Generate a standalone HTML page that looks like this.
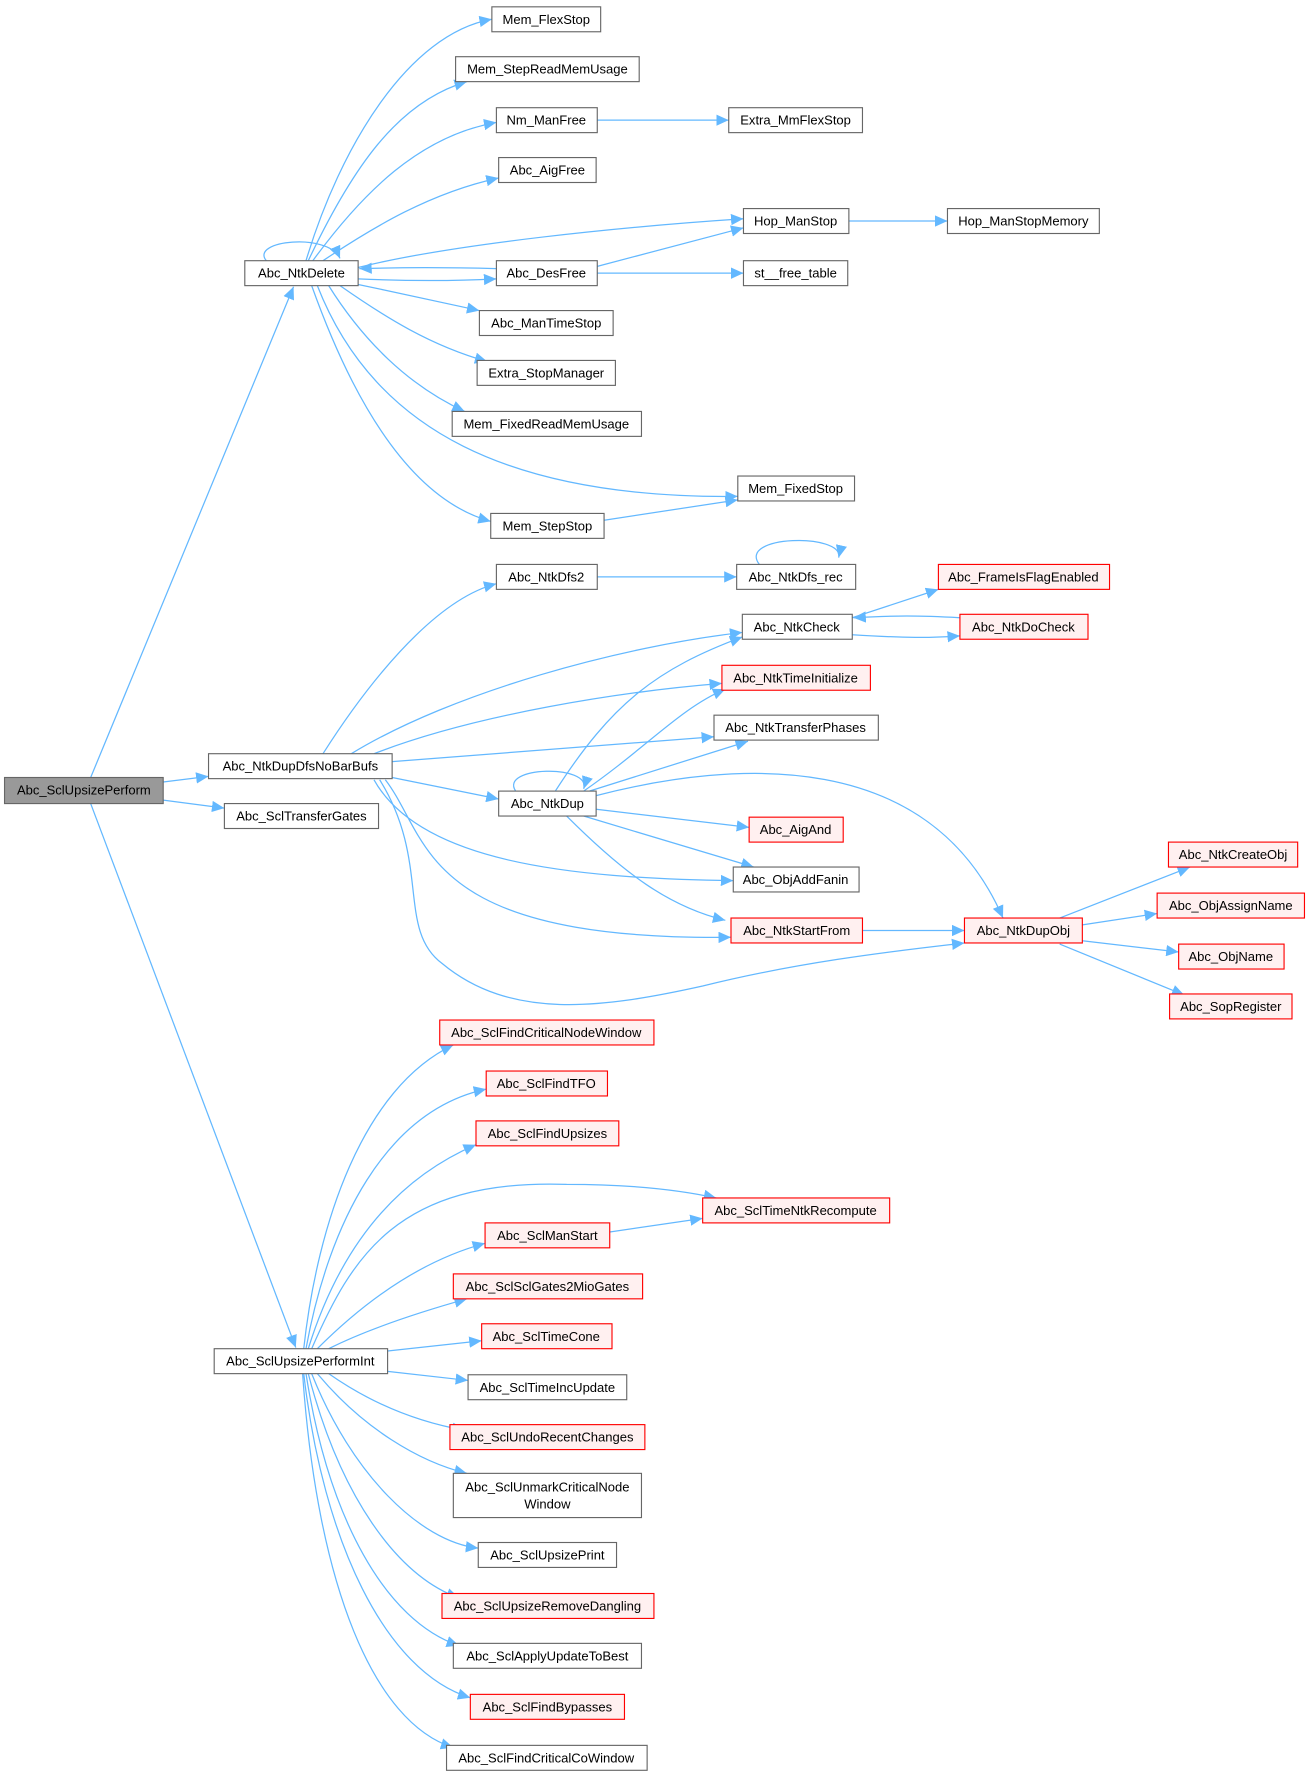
<!DOCTYPE html>
<html><head><meta charset="utf-8"><style>html,body{margin:0;padding:0;background:#fff}svg{display:block}</style></head>
<body>
<svg width="1309" height="1776" viewBox="0 0 1155 1567" xmlns="http://www.w3.org/2000/svg" font-family="Liberation Sans, Arial, sans-serif" font-size="11.5">
<defs>
<marker id="a" markerUnits="userSpaceOnUse" markerWidth="12" markerHeight="10" refX="11" refY="5" orient="auto"><path d="M0,0 L11,5 L0,10 z" fill="#63b8ff"/></marker>
</defs>
<g fill="none" stroke="#63b8ff" stroke-width="1.1" marker-end="url(#a)">
<path d="M80,686 L259,253"/>
<path d="M144,690 L184,685"/>
<path d="M144,706 L198,713"/>
<path d="M80,709 L261,1189"/>
<path d="M270,230 C300,130 360,30 434,17"/>
<path d="M272,230 C310,150 350,90 412,72"/>
<path d="M276,230 C320,170 370,120 438,108"/>
<path d="M285,230 C330,200 380,170 440,157"/>
<path d="M316,236 C400,215 550,200 656,193"/>
<path d="M438,237 C400,236 350,236 317,237"/>
<path d="M316,246 C360,248 400,248 438,246"/>
<path d="M316,251 C350,258 380,265 423,274"/>
<path d="M300,252 C340,280 380,305 430,319"/>
<path d="M290,252 C320,300 360,340 410,363"/>
<path d="M280,252 C330,380 450,440 651,438"/>
<path d="M275,252 C310,350 360,440 433,460"/>
<path d="M235,230 C220,212 290,205 300,228"/>
<path d="M527,106 L643,106"/>
<path d="M527,235 L656,201"/>
<path d="M527,241 L656,241"/>
<path d="M749,195 L836,195"/>
<path d="M533,459 L651,441"/>
<path d="M285,665 C320,610 380,530 438,515"/>
<path d="M310,665 C400,610 550,570 655,558"/>
<path d="M330,665 C420,630 550,610 637,603"/>
<path d="M346,672 L630,650"/>
<path d="M346,686 L440,705"/>
<path d="M330,688 C370,760 500,775 647,777"/>
<path d="M340,688 C380,740 370,830 645,827"/>
<path d="M335,688 C380,760 350,820 390,850 C450,900 530,890 620,870 C700,850 780,840 851,832"/>
<path d="M527,509 L650,509"/>
<path d="M670,498 C650,472 745,470 740,492"/>
<path d="M752,545 L828,520"/>
<path d="M847,545 C810,543 790,543 753,545"/>
<path d="M752,560 C800,563 820,563 847,561"/>
<path d="M490,698 C540,620 580,590 655,562"/>
<path d="M515,698 C570,660 600,625 640,608"/>
<path d="M520,698 L660,654"/>
<path d="M526,702 C650,670 820,660 885,810"/>
<path d="M526,714 L661,730"/>
<path d="M515,720 L665,765"/>
<path d="M500,720 C550,770 590,800 640,812"/>
<path d="M455,698 C440,676 522,674 515,696"/>
<path d="M761,821 L851,821"/>
<path d="M935,810 L1050,765"/>
<path d="M955,816 L1021,806"/>
<path d="M955,830 L1040,840"/>
<path d="M935,833 L1045,878"/>
<path d="M268,1190 C280,1080 320,960 400,922"/>
<path d="M270,1190 C290,1080 340,980 429,961"/>
<path d="M272,1190 C300,1100 350,1040 420,1010"/>
<path d="M275,1190 C310,1110 350,1040 500,1045 C560,1045 600,1050 632,1057"/>
<path d="M280,1190 C330,1140 380,1110 428,1097"/>
<path d="M290,1190 C330,1170 380,1155 412,1146"/>
<path d="M342,1192 L425,1183"/>
<path d="M342,1210 L413,1218"/>
<path d="M290,1212 C330,1240 370,1255 410,1262"/>
<path d="M280,1212 C320,1260 370,1290 412,1300"/>
<path d="M275,1212 C310,1300 370,1360 422,1366"/>
<path d="M272,1212 C300,1320 350,1390 405,1410"/>
<path d="M270,1212 C290,1340 340,1430 405,1452"/>
<path d="M268,1212 C285,1360 340,1475 415,1498"/>
<path d="M267,1212 C280,1400 330,1520 400,1542"/>
<path d="M538,1087 L620,1075"/>
</g>
<g stroke-width="1" text-anchor="middle">
<g fill="#fff" stroke="#666">
<rect x="4" y="686" width="140" height="23" fill="#999"/>
<rect x="216" y="230" width="100" height="22"/>
<rect x="184" y="665" width="162" height="22"/>
<rect x="198" y="709" width="136" height="22"/>
<rect x="189" y="1190" width="153" height="22"/>
<rect x="434" y="6" width="96" height="22"/>
<rect x="402" y="50" width="162" height="22"/>
<rect x="438" y="95" width="89" height="22"/>
<rect x="440" y="139" width="86" height="22"/>
<rect x="438" y="230" width="89" height="22"/>
<rect x="423" y="274" width="118" height="22"/>
<rect x="421" y="318" width="122" height="22"/>
<rect x="399" y="363" width="167" height="22"/>
<rect x="433" y="453" width="100" height="22"/>
<rect x="643" y="95" width="118" height="22"/>
<rect x="656" y="184" width="93" height="22"/>
<rect x="836" y="184" width="134" height="22"/>
<rect x="656" y="230" width="92" height="22"/>
<rect x="651" y="420" width="103" height="22"/>
<rect x="438" y="498" width="89" height="22"/>
<rect x="650" y="498" width="105" height="22"/>
<rect x="655" y="542" width="97" height="22"/>
<rect x="630" y="631" width="145" height="22"/>
<rect x="440" y="698" width="86" height="22"/>
<rect x="647" y="765" width="111" height="22"/>
<rect x="413" y="1213" width="140" height="22"/>
<rect x="400" y="1300" width="166" height="39"/>
<rect x="422" y="1361" width="122" height="22"/>
<rect x="400" y="1450" width="166" height="22"/>
<rect x="394" y="1540" width="177" height="22"/>
</g>
<g fill="#fff0f0" stroke="#ff0000">
<rect x="828" y="498" width="151" height="22"/>
<rect x="847" y="542" width="113" height="22"/>
<rect x="637" y="587" width="131" height="22"/>
<rect x="661" y="721" width="83" height="22"/>
<rect x="645" y="810" width="116" height="22"/>
<rect x="851" y="810" width="104" height="22"/>
<rect x="1031" y="743" width="114" height="22"/>
<rect x="1021" y="788" width="130" height="22"/>
<rect x="1040" y="833" width="93" height="22"/>
<rect x="1032" y="877" width="108" height="22"/>
<rect x="388" y="900" width="189" height="22"/>
<rect x="429" y="945" width="107" height="22"/>
<rect x="420" y="989" width="126" height="22"/>
<rect x="620" y="1057" width="165" height="22"/>
<rect x="428" y="1079" width="110" height="22"/>
<rect x="400" y="1124" width="167" height="22"/>
<rect x="425" y="1168" width="115" height="22"/>
<rect x="397" y="1257" width="172" height="22"/>
<rect x="390" y="1406" width="187" height="22"/>
<rect x="415" y="1495" width="136" height="22"/>
</g>
<g fill="#000" stroke="none">
<text x="74" y="701">Abc_SclUpsizePerform</text>
<text x="266" y="245">Abc_NtkDelete</text>
<text x="265" y="680">Abc_NtkDupDfsNoBarBufs</text>
<text x="266" y="724">Abc_SclTransferGates</text>
<text x="265" y="1205">Abc_SclUpsizePerformInt</text>
<text x="482" y="21">Mem_FlexStop</text>
<text x="483" y="65">Mem_StepReadMemUsage</text>
<text x="482" y="110">Nm_ManFree</text>
<text x="483" y="154">Abc_AigFree</text>
<text x="482" y="245">Abc_DesFree</text>
<text x="482" y="289">Abc_ManTimeStop</text>
<text x="482" y="333">Extra_StopManager</text>
<text x="482" y="378">Mem_FixedReadMemUsage</text>
<text x="483" y="468">Mem_StepStop</text>
<text x="702" y="110">Extra_MmFlexStop</text>
<text x="702" y="199">Hop_ManStop</text>
<text x="903" y="199">Hop_ManStopMemory</text>
<text x="702" y="245">st__free_table</text>
<text x="702" y="435">Mem_FixedStop</text>
<text x="482" y="513">Abc_NtkDfs2</text>
<text x="702" y="513">Abc_NtkDfs_rec</text>
<text x="703" y="557">Abc_NtkCheck</text>
<text x="702" y="646">Abc_NtkTransferPhases</text>
<text x="483" y="713">Abc_NtkDup</text>
<text x="702" y="780">Abc_ObjAddFanin</text>
<text x="483" y="1228">Abc_SclTimeIncUpdate</text>
<text x="483" y="1316">Abc_SclUnmarkCriticalNode</text>
<text x="483" y="1331">Window</text>
<text x="483" y="1376">Abc_SclUpsizePrint</text>
<text x="483" y="1465">Abc_SclApplyUpdateToBest</text>
<text x="482" y="1555">Abc_SclFindCriticalCoWindow</text>
<text x="903" y="513">Abc_FrameIsFlagEnabled</text>
<text x="903" y="557">Abc_NtkDoCheck</text>
<text x="702" y="602">Abc_NtkTimeInitialize</text>
<text x="702" y="736">Abc_AigAnd</text>
<text x="703" y="825">Abc_NtkStartFrom</text>
<text x="903" y="825">Abc_NtkDupObj</text>
<text x="1088" y="758">Abc_NtkCreateObj</text>
<text x="1086" y="803">Abc_ObjAssignName</text>
<text x="1086" y="848">Abc_ObjName</text>
<text x="1086" y="892">Abc_SopRegister</text>
<text x="482" y="915">Abc_SclFindCriticalNodeWindow</text>
<text x="482" y="960">Abc_SclFindTFO</text>
<text x="483" y="1004">Abc_SclFindUpsizes</text>
<text x="702" y="1072">Abc_SclTimeNtkRecompute</text>
<text x="483" y="1094">Abc_SclManStart</text>
<text x="483" y="1139">Abc_SclSclGates2MioGates</text>
<text x="482" y="1183">Abc_SclTimeCone</text>
<text x="483" y="1272">Abc_SclUndoRecentChanges</text>
<text x="483" y="1421">Abc_SclUpsizeRemoveDangling</text>
<text x="483" y="1510">Abc_SclFindBypasses</text>
</g>
</g>
</svg>
</body></html>
